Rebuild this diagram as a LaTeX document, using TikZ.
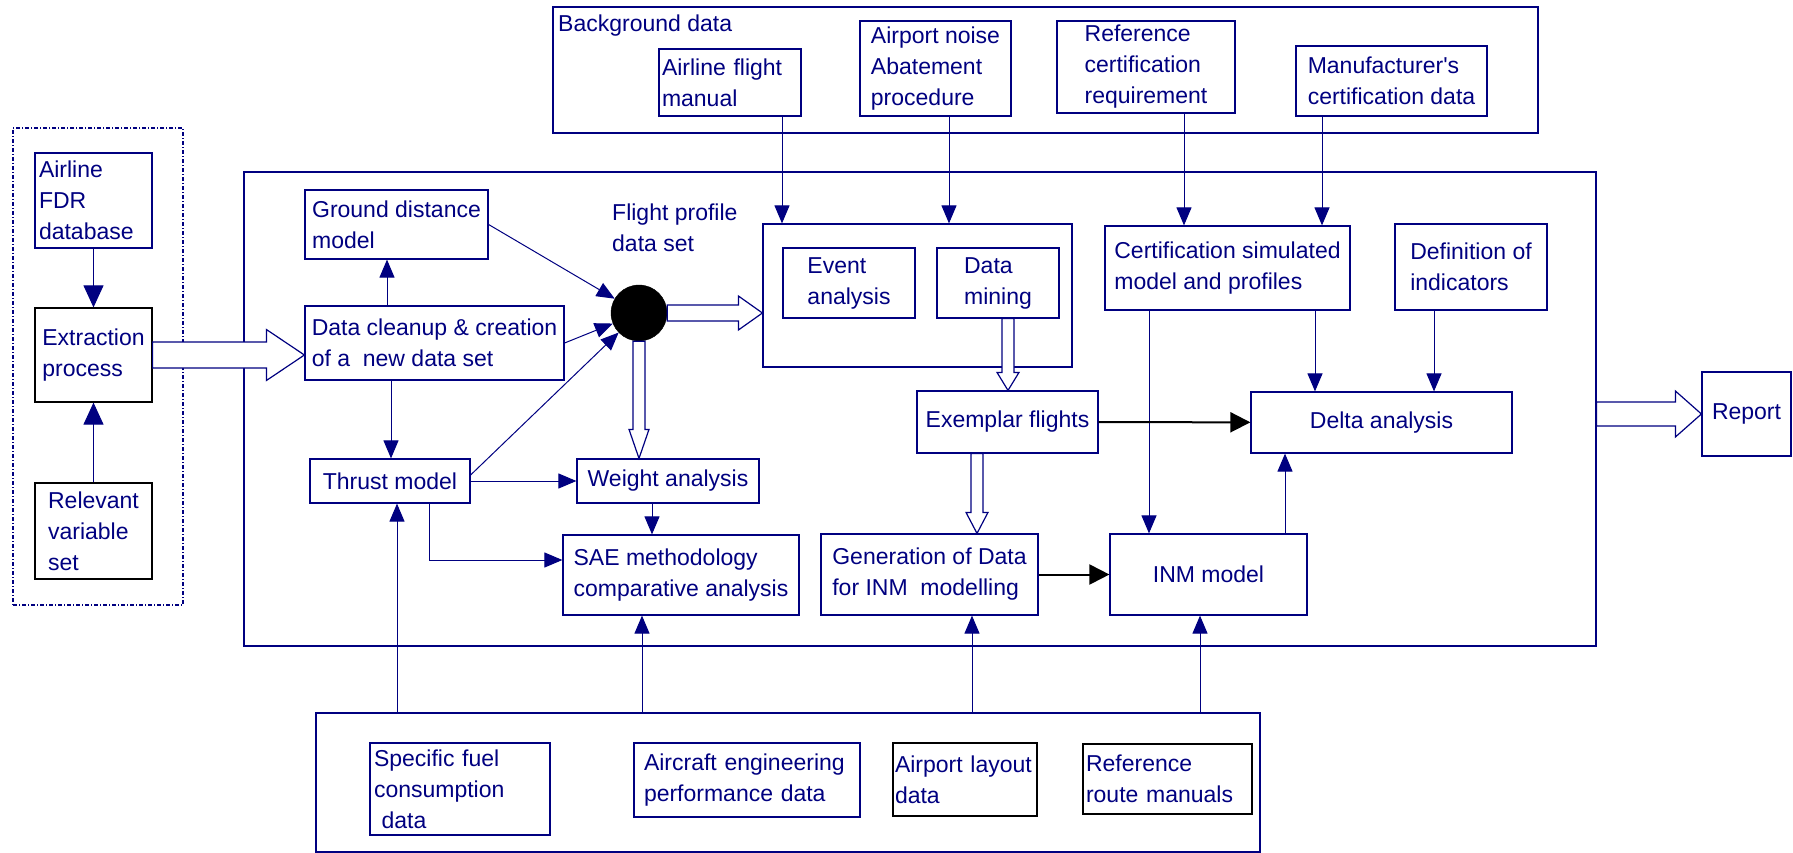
\documentclass[tikz,border=0pt]{standalone}
\usepackage{fontspec}
\setmainfont{Liberation Sans}
\usetikzlibrary{calc,arrows.meta,positioning,shapes}

\definecolor{marine}{RGB}{0,0,128}

\tikzset{sz/.style n args={2}{minimum width=#1pt, minimum height=#2pt}}

% hul pil: fra, til, halv skaftbredde, halv spissbredde, spisslengde
\newcommand{\holpil}[5]{%
  \coordinate (hb) at ($(#2)!#5!(#1)$);
  \draw[marine, line width=1.2pt, fill=white]
    ($(#1)!#3!90:(#2)$) -- ($(hb)!#3!90:(#2)$) -- ($(hb)!#4!90:(#2)$) -- (#2)
    -- ($(hb)!#4!-90:(#2)$) -- ($(hb)!#3!-90:(#2)$) -- ($(#1)!#3!-90:(#2)$) -- cycle;
}

\begin{document}
\begin{tikzpicture}[
    x=1pt, y=-1pt,
    %framed,
    boks/.style={rectangle, draw=marine, line width=1.2pt, text=marine, align=left,
        inner sep=0pt, font=\fontsize{23}{31}\selectfont},
    svartboks/.style={boks, draw=black},
    ramme/.style={rectangle, draw=marine, line width=1.2pt, inner sep=0pt},
    prikkramme/.style={ramme, line width=1.5pt, dash pattern=on 4pt off 2pt on 1pt off 2pt},
    tekst/.style={text=marine, align=left, inner sep=0pt, font=\fontsize{23}{31}\selectfont},
    pil/.style={draw=marine, line width=1pt, -{Triangle[length=18pt,width=15pt]}},
    storpil/.style={pil, -{Triangle[length=22pt,width=20pt]}},
    svartpil/.style={draw=black, line width=2pt, -{Triangle[length=20pt,width=20pt]}}
    ]
    \useasboundingbox (0,0) rectangle (1793,853);

% rammer
\node[prikkramme, sz={170}{477}] (fdrramme) at (98,366.5) {};
\node[ramme, sz={1352}{474}] (hoved) at (920,409) {};
\node[ramme, sz={985}{126}] (bakgrunn) at (1045.5,70) {};
\node[ramme, sz={944}{139}] (bund) at (788,782.5) {};
\node[ramme, sz={309}{143}] (analyse) at (917.5,295.5) {};

\node[tekst, anchor=west] (bgtekst) at (558,26) {Background data};
\node[tekst, anchor=west] (fptekst) at (612,227.5) {Flight profile\\data set};

% venstre
\node[boks, sz={117}{95}, text width=109pt] (fdr) at (93.5,200.5) {Airline\\FDR\\database};
\node[svartboks, sz={117}{94}] (extract) at (93.5,355) {Extraction\\process};
\node[svartboks, sz={117}{96}] (relvar) at (93.5,531) {Relevant\\variable\\set};

% bakgrunnsdata
\node[boks, sz={142}{67}, text width=136pt] (afm) at (730,82.5) {Airline flight\\manual};
\node[boks, sz={151}{95}] (noise) at (935.5,68.5) {Airport noise\\Abatement\\procedure};
\node[boks, sz={178}{92}] (refcert) at (1146,67) {Reference\\certification\\requirement};
\node[boks, sz={191}{70}] (manu) at (1391.5,81) {Manufacturer\textquotesingle s\\certification data};

% hovedprosess
\node[boks, sz={183}{69}] (gdm) at (396.5,224.5) {Ground distance\\model};
\node[boks, sz={259}{74}] (clean) at (434.5,343) {Data cleanup \& creation\\of a~ new data set};
\node[circle, fill=black, draw=black, minimum size=56pt, inner sep=0pt] (dot) at (639,313) {};
\node[boks, sz={160}{44}] (thrust) at (390,481) {Thrust model};
\node[boks, sz={182}{44}] (weight) at (668,481) {Weight analysis};
\node[boks, sz={236}{80}] (sae) at (681,575) {SAE methodology\\comparative analysis};
\node[boks, sz={132}{70}] (event) at (849,283) {Event\\analysis};
\node[boks, sz={122}{70}] (mining) at (998,283) {Data\\mining};
\node[boks, sz={181}{62}] (exemplar) at (1007.5,422) {Exemplar flights};
\node[boks, sz={217}{81}] (gen) at (929.5,574.5) {Generation of Data\\for INM~ modelling};
\node[boks, sz={197}{81}] (inm) at (1208.5,574.5) {INM model};
\node[boks, sz={245}{84}] (cert) at (1227.5,268) {Certification simulated\\model and profiles};
\node[boks, sz={152}{86}] (indic) at (1471,267) {Definition of\\indicators};
\node[boks, sz={261}{61}] (delta) at (1381.5,422.5) {Delta analysis};
\node[boks, sz={89}{84}] (report) at (1746.5,414) {Report};

% grunnlagsdata
\node[boks, sz={180}{92}, text width=172pt] (sfc) at (460,789) {Specific fuel\\consumption\\~data};
\node[boks, sz={226}{74}, text width=206pt] (aed) at (747,780) {Aircraft engineering\\performance data};
\node[svartboks, sz={144}{73}, text width=140pt] (layout) at (965,779.5) {Airport layout\\data};
\node[svartboks, sz={169}{70}, text width=163pt] (route) at (1167.5,779) {Reference\\route manuals};

% piler
\draw[storpil] (fdr) -- (extract);
\draw[storpil] (relvar) -- (extract);

\coordinate (a1) at ([xshift=52pt]afm.south);
\coordinate (a2) at ([xshift=13.5pt]noise.south);
\coordinate (a3) at ([xshift=38pt]refcert.south);
\coordinate (a4) at ([xshift=-69.5pt]manu.south);
\foreach \a/\m in {a1/analyse, a2/analyse, a3/cert, a4/cert}
    \draw[pil] (\a) -- (\a |- \m.north);

\coordinate (p1) at ([xshift=-47.5pt]clean.north);
\coordinate (p2) at ([xshift=-43.5pt]clean.south);
\coordinate (p3) at ([xshift=-16pt]weight.south);
\coordinate (p4) at ([xshift=39pt]thrust.south);
\coordinate (p5) at ([yshift=15pt]sae.west);
\draw[pil] (p1) -- (p1 |- gdm.south);
\draw[pil] (p2) -- (p2 |- thrust.north);
\draw[pil] (gdm.east) -- (dot);
\draw[pil] (clean.east) -- (dot);
\draw[pil] ([yshift=6pt]thrust.east) -- (dot);
\draw[pil] (thrust.east) -- (weight.west);
\draw[pil] (p3) -- (p3 |- sae.north);
\draw[pil] (p4) |- (p5);

% fra grunnlagsdata
\coordinate (b1) at ([xshift=7pt]thrust.south);
\coordinate (b2) at ([xshift=-39pt]sae.south);
\coordinate (b3) at ([xshift=42.5pt]gen.south);
\coordinate (b4) at ([xshift=-8.5pt]inm.south);
\foreach \b in {b1,b2,b3,b4}
    \draw[pil] (\b |- bund.north) -- (\b);

% mot delta
\coordinate (c1) at ([xshift=-59.5pt]inm.north);
\coordinate (c2) at ([xshift=-66.5pt]delta.north);
\coordinate (c3) at ([xshift=52.5pt]delta.north);
\coordinate (c4) at ([xshift=-96.5pt]delta.south);
\draw[pil] (c1 |- cert.south) -- (c1);
\draw[pil] (c2 |- cert.south) -- (c2);
\draw[pil] (c3 |- indic.south) -- (c3);
\draw[pil] (c4 |- inm.north) -- (c4);

\draw[svartpil] (exemplar) -- (delta);
\draw[svartpil] (gen) -- (inm);

% hule piler
\coordinate (h1) at (extract.east -| clean.west);
\holpil{extract.east}{h1}{13pt}{25.5pt}{38pt}
\coordinate (h2) at (dot.east -| analyse.west);
\holpil{dot.east}{h2}{8pt}{17pt}{24pt}
\coordinate (h3) at (dot.south |- weight.north);
\holpil{dot.south}{h3}{6pt}{10pt}{29pt}
\coordinate (h4s) at ([xshift=10pt]mining.south);
\coordinate (h4) at (h4s |- exemplar.north);
\holpil{h4s}{h4}{6pt}{11pt}{18pt}
\coordinate (h5s) at ([xshift=-30.5pt]exemplar.south);
\coordinate (h5) at (h5s |- gen.north);
\holpil{h5s}{h5}{6pt}{11pt}{21pt}
\coordinate (h6s) at (report.west -| hoved.east);
\holpil{h6s}{report.west}{12pt}{23pt}{26pt}
\end{tikzpicture}
\end{document}
